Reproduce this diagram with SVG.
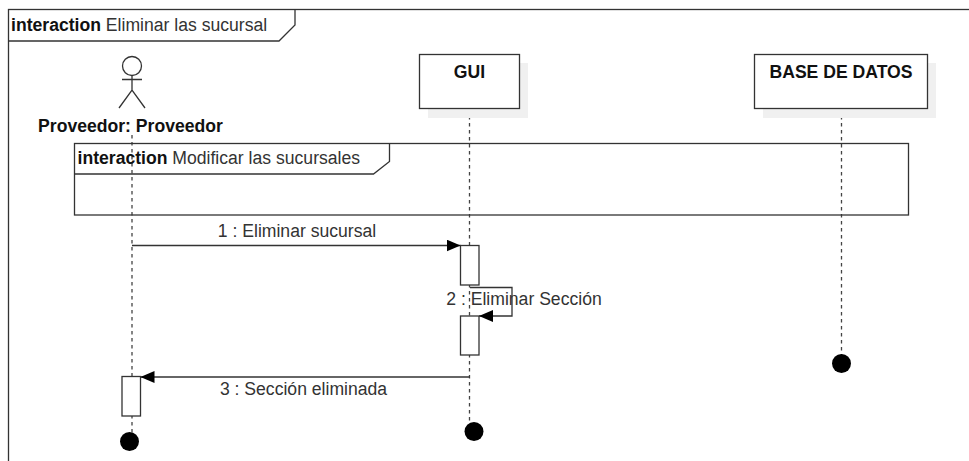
<svg xmlns="http://www.w3.org/2000/svg" width="969" height="461" viewBox="0 0 969 461">
<defs>
<style>
.t{font-family:"Liberation Sans",Arial,sans-serif;font-size:17.6px;fill:#333}
.b{font-weight:bold;fill:#111}
.ln{fill:none;stroke:#333;stroke-width:1.3}
.box{fill:#fff;stroke:#333;stroke-width:1.3}
.life{fill:none;stroke:#444;stroke-width:1.3;stroke-dasharray:3.5 3.5}
.sh{fill:#f0f0f0}
.end{fill:#000}
</style>
<marker id="arr" viewBox="0 0 14 12" refX="14" refY="6" markerWidth="14" markerHeight="12" markerUnits="userSpaceOnUse" orient="auto">
<path d="M0,0 L14,6 L0,12 Z" fill="#000"/>
</marker>
</defs>
<rect width="969" height="461" fill="#fff"/>

<g id="frame-outer">
<rect x="8.5" y="9.5" width="1000" height="500" class="ln"/>
<path d="M8.5,41 H279 L295,25 V9.5" class="ln"/>
<text x="11" y="31" class="t"><tspan class="b">interaction</tspan> Eliminar las sucursal</text>
</g>

<g id="lifelines">
<line x1="132" y1="135" x2="132" y2="433" class="life"/>
<line x1="469.5" y1="109" x2="469.5" y2="423" class="life"/>
<line x1="841.5" y1="109" x2="841.5" y2="355" class="life"/>
</g>

<g id="actor-proveedor">
<circle cx="132" cy="66" r="9.5" class="ln"/>
<path d="M132,75.5 V90 M122,79.5 H142 M119,108 L132,90 L145,108" class="ln"/>
<text x="130.5" y="132" text-anchor="middle" class="t b">Proveedor: Proveedor</text>
</g>

<g id="gui">
<rect x="428" y="63" width="100" height="55" class="sh"/>
<rect x="419.5" y="54.5" width="100" height="54" class="box"/>
<text x="469.5" y="77.5" text-anchor="middle" class="t b">GUI</text>
</g>

<g id="base-de-datos">
<rect x="763" y="63" width="173" height="55" class="sh"/>
<rect x="754.5" y="54.5" width="173" height="54" class="box"/>
<text x="841" y="77.5" text-anchor="middle" class="t b">BASE DE DATOS</text>
</g>

<g id="frame-inner">
<rect x="74.5" y="143.5" width="834" height="71.5" fill="none" stroke="#333" stroke-width="1.3"/>
<path d="M74.5,174 H373.5 L389.5,161.5 V143.5" class="ln"/>
<text x="77.5" y="163.5" class="t"><tspan class="b">interaction</tspan> Modificar las sucursales</text>
</g>

<g id="activations">
<rect x="460.5" y="245.5" width="18.5" height="39.5" class="box"/>
<rect x="460.5" y="316" width="18.5" height="39" class="box"/>
<rect x="122" y="376.5" width="18.5" height="39.5" class="box"/>
</g>

<g id="connectors">
<line x1="132" y1="245.5" x2="460.5" y2="245.5" class="ln" marker-end="url(#arr)"/>
<text x="297" y="237" text-anchor="middle" class="t">1 : Eliminar sucursal</text>
<path d="M470,287.5 H512 V316 H479" class="ln" marker-end="url(#arr)"/>
<text x="524" y="304.5" text-anchor="middle" class="t">2 : Eliminar Sección</text>
<line x1="470" y1="377" x2="140.5" y2="377" class="ln" marker-end="url(#arr)"/>
<text x="303.5" y="395" text-anchor="middle" class="t">3 : Sección eliminada</text>
</g>

<g id="ends">
<circle cx="129.5" cy="441.5" r="9.5" class="end"/>
<circle cx="474" cy="431.5" r="9.5" class="end"/>
<circle cx="841.5" cy="363.5" r="9.5" class="end"/>
</g>
</svg>
